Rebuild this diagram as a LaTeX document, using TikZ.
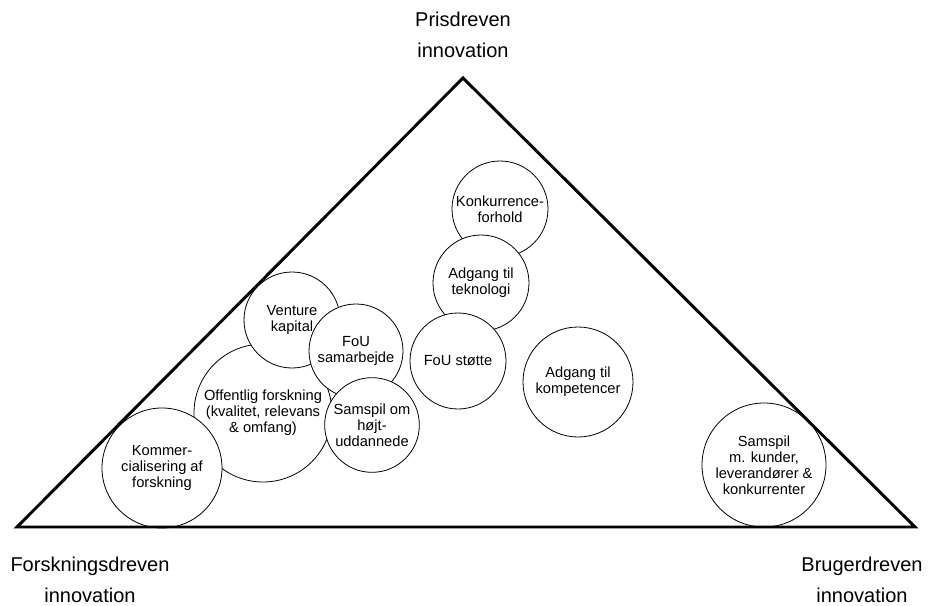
\documentclass[tikz,border=0pt]{standalone}
\usepackage{fontspec}
\setmainfont{Liberation Sans}
\usetikzlibrary{positioning}
\tikzset{x=0.75pt, y=-0.75pt, % one unit is one pixel of the original figure
every node/.style={font=\fontsize{11}{12}\selectfont, align=center}, % text inside the circles
}

\begin{document}
\begin{tikzpicture}[
	felt/.style={circle, draw, fill=white, line width=0.6pt, inner sep=0pt, minimum size=#1},
	hjorne/.style={font=\fontsize{15}{23}\selectfont, align=center}]
\useasboundingbox (0,0) rectangle (932,606);
% the factors
\node[felt=72pt] (konk) at (500,209) {Konkurrence-\\forhold};
\node[felt=72pt] (tekn) at (481,283) {Adgang til\\teknologi};
\node[felt=72pt] (stoette) at (458,361) {FoU støtte};
\node[felt=82.5pt] (komp) at (578,382) {Adgang til\\kompetencer};
\node[felt=103.5pt] (offf) at (263,413) {Offentlig forskning\\(kvalitet, relevans\\\& omfang)};
\node[felt=72pt] (vent) at (292,320) {Venture\\kapital};
\node[felt=70.5pt] (samarb) at (356,351) {FoU\\samarbejde};
\node[felt=71pt] (hoejt) at (372,425) {Samspil om\\højt-\\uddannede};
\node[felt=90pt] (kommer) at (162,468) {Kommer-\\cialisering af\\forskning};
\node[felt=93pt] (kunder) at (764,465) {Samspil\\m. kunder,\\leverandører \&\\konkurrenter};
% the triangle
\coordinate (F) at (17,527);
\coordinate (P) at (463,78);
\coordinate (B) at (915,527);
\draw[line width=2.2pt, line join=miter] (F) -- (P) -- (B) -- cycle;
% corners
\node[hjorne] (pris) at (463,35) {Prisdreven\\innovation};
\node[hjorne] (forsk) at (90,580) {Forskningsdreven\\innovation};
\node[hjorne] (bruger) at (862,580) {Brugerdreven\\innovation};
\end{tikzpicture}
\end{document}
